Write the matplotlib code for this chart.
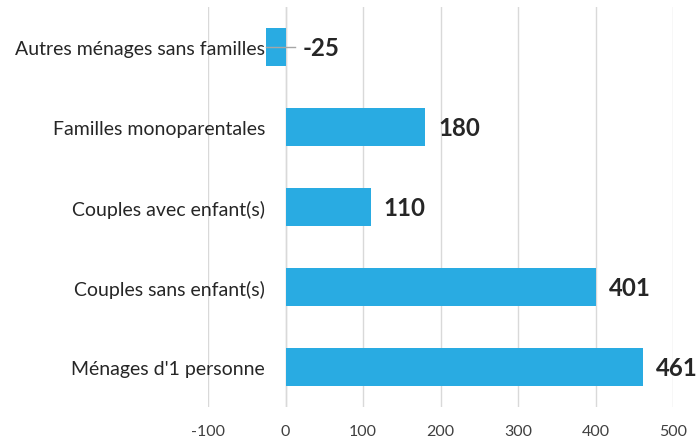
import matplotlib
matplotlib.use("Agg")
import matplotlib.pyplot as plt

categories = ["Autres ménages sans familles", "Familles monoparentales",
              "Couples avec enfant(s)", "Couples sans enfant(s)", "Ménages d'1 personne"]
values = [-25, 180, 110, 401, 461]
xticks = [-100, 0, 100, 200, 300, 400, 500]

plt.rcParams['font.family'] = ['Lato', 'DejaVu Sans']
bar_color = "#29ABE2"
grid_color = "#D9D9D9"
text_color = "#262626"

fig = plt.figure(figsize=(6.96, 4.39), dpi=100)
ax = fig.add_axes([208/696, 1-408/439, (673-208)/696, 400/439])

ypos = list(range(len(categories)))
ax.barh(ypos, values, height=0.48, color=bar_color, zorder=3)
ax.set_xlim(-100, 500)
ax.set_ylim(len(categories)-0.5, -0.5)
ax.set_xticks(xticks)
ax.set_xticklabels([str(t) for t in xticks], fontsize=11.5, color="#404040")
ax.set_yticks(ypos)
ax.set_yticklabels(categories, fontsize=14, color=text_color)
ax.tick_params(axis='both', length=0)
ax.tick_params(axis='x', pad=12)
ax.tick_params(axis='y', pad=-41)
ax.grid(axis='x', color=grid_color, linewidth=1, zorder=0)
for s in ax.spines.values():
    s.set_visible(False)
ax.axvline(0, color=grid_color, linewidth=1, zorder=1)

for y, v in zip(ypos, values):
    x0 = max(v, 0)
    off = 17 if v < 0 else 13
    ax.annotate(str(v), xy=(x0, y), xytext=(off, 0), textcoords='offset pixels',
                ha='left', va='center', fontsize=17.3, fontweight='bold',
                color=text_color, annotation_clip=False)
    if v < 0:
        ax.plot([v, 12], [y, y], color="#A6A6A6", linewidth=1, zorder=4)

fig.savefig("out.png", dpi=100)
